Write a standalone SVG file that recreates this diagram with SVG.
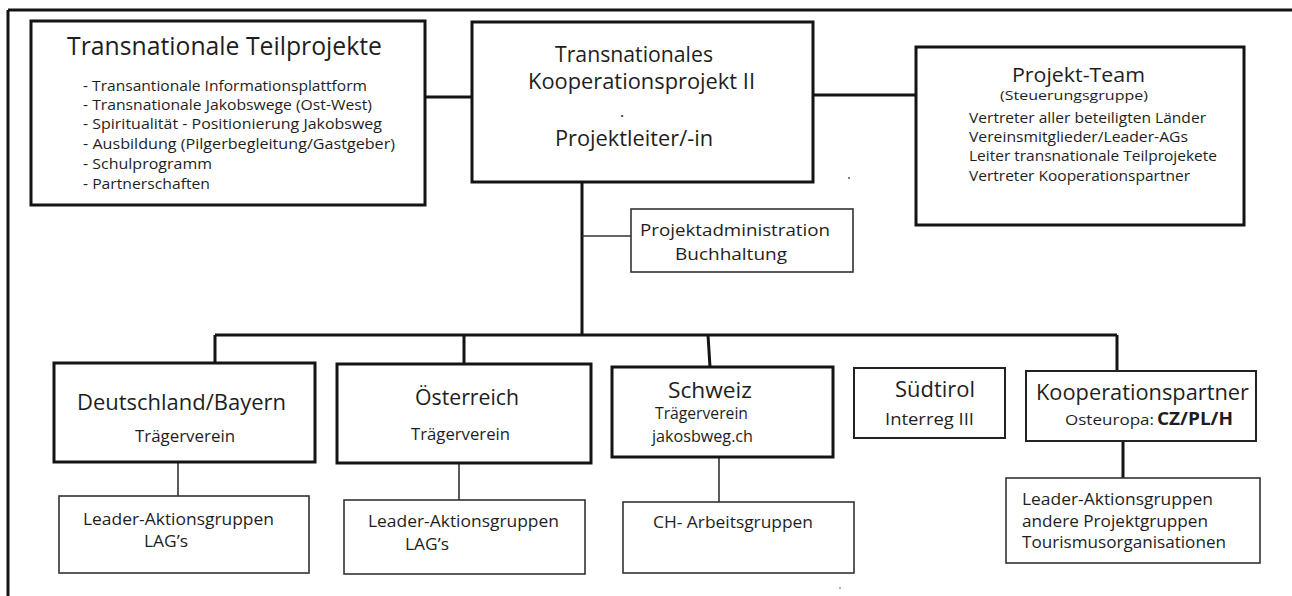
<svg xmlns="http://www.w3.org/2000/svg" width="1292" height="596" viewBox="0 0 1292 596">
<style>
text{font-family:"Open Sans","Liberation Sans",sans-serif;fill:#1e1e1e}
.b{fill:#fff;stroke:#141414;stroke-width:3}
.t{fill:#fff;stroke:#333;stroke-width:1.6}
.m{fill:#fff;stroke:#222;stroke-width:2}
.c{stroke:#141414;stroke-width:3;fill:none}
.s{stroke:#333;stroke-width:1.6;fill:none}
</style>
<rect width="1292" height="596" fill="#fff"/>
<g id="frame"><path class="c" d="M8 10H1292M8 10V596"/></g>
<g id="connectors">
<path class="c" d="M425 97H472M813 95H917M582 182V335M215 335H1117M215 335V363M464 335V364M708 335L710 367M1117 335V371M1123 441V478"/>
<path class="s" d="M582 236H631M178 462V496M459 463V500M719 457V502"/>
</g>
<g id="teilprojekte">
<rect class="b" x="31" y="21" width="394" height="184"/>
<text x="67" y="55" font-size="26" textLength="315" lengthAdjust="spacingAndGlyphs">Transnationale Teilprojekte</text>
<g font-size="15">
<text x="83" y="91" textLength="284" lengthAdjust="spacingAndGlyphs">- Transantionale Informationsplattform</text>
<text x="83" y="110" textLength="289" lengthAdjust="spacingAndGlyphs">- Transnationale Jakobswege (Ost-West)</text>
<text x="83" y="129" textLength="299" lengthAdjust="spacingAndGlyphs">- Spiritualität - Positionierung Jakobsweg</text>
<text x="83" y="149" textLength="312" lengthAdjust="spacingAndGlyphs">- Ausbildung (Pilgerbegleitung/Gastgeber)</text>
<text x="83" y="169" textLength="129" lengthAdjust="spacingAndGlyphs">- Schulprogramm</text>
<text x="83" y="189" textLength="127" lengthAdjust="spacingAndGlyphs">- Partnerschaften</text>
</g>
</g>
<g id="kooperationsprojekt">
<rect class="b" x="472" y="22" width="341" height="160"/>
<text x="555" y="62" font-size="21" textLength="158" lengthAdjust="spacingAndGlyphs">Transnationales</text>
<text x="528" y="89" font-size="21" textLength="227" lengthAdjust="spacingAndGlyphs">Kooperationsprojekt II</text>
<text x="620" y="117" font-size="16">.</text>
<text x="555" y="146" font-size="22" textLength="158" lengthAdjust="spacingAndGlyphs">Projektleiter/-in</text>
</g>
<g id="projektteam">
<rect class="b" x="916" y="47" width="328" height="178"/>
<text x="1012" y="82" font-size="20" textLength="133" lengthAdjust="spacingAndGlyphs">Projekt-Team</text>
<text x="1000" y="100" font-size="13.5" textLength="148" lengthAdjust="spacingAndGlyphs">(Steuerungsgruppe)</text>
<g font-size="14.5">
<text x="969" y="123" textLength="237" lengthAdjust="spacingAndGlyphs">Vertreter aller beteiligten Länder</text>
<text x="969" y="142" textLength="219" lengthAdjust="spacingAndGlyphs">Vereinsmitglieder/Leader-AGs</text>
<text x="969" y="161" textLength="248" lengthAdjust="spacingAndGlyphs">Leiter transnationale Teilprojekete</text>
<text x="969" y="181" textLength="221" lengthAdjust="spacingAndGlyphs">Vertreter Kooperationspartner</text>
</g>
</g>
<g id="administration">
<rect class="t" x="631" y="209" width="222" height="63"/>
<text x="640" y="236" font-size="17" textLength="190" lengthAdjust="spacingAndGlyphs">Projektadministration</text>
<text x="675" y="260" font-size="17" textLength="112" lengthAdjust="spacingAndGlyphs">Buchhaltung</text>
</g>
<g id="deutschland">
<rect class="b" x="54" y="363" width="261" height="99"/>
<text x="77" y="410" font-size="22" textLength="209" lengthAdjust="spacingAndGlyphs">Deutschland/Bayern</text>
<text x="135" y="442" font-size="16" textLength="100" lengthAdjust="spacingAndGlyphs">Trägerverein</text>
</g>
<g id="lag-deutschland">
<rect class="t" x="59" y="496" width="250" height="77"/>
<text x="83" y="525" font-size="16" textLength="191" lengthAdjust="spacingAndGlyphs">Leader-Aktionsgruppen</text>
<text x="144" y="547" font-size="16" textLength="44" lengthAdjust="spacingAndGlyphs">LAG’s</text>
</g>
<g id="oesterreich">
<rect class="b" x="337" y="364" width="254" height="99"/>
<text x="415" y="405" font-size="22" textLength="104" lengthAdjust="spacingAndGlyphs">Österreich</text>
<text x="411" y="440" font-size="16" textLength="99" lengthAdjust="spacingAndGlyphs">Trägerverein</text>
</g>
<g id="lag-oesterreich">
<rect class="t" x="344" y="500" width="241" height="74"/>
<text x="368" y="527" font-size="16" textLength="191" lengthAdjust="spacingAndGlyphs">Leader-Aktionsgruppen</text>
<text x="405" y="550" font-size="16" textLength="44" lengthAdjust="spacingAndGlyphs">LAG’s</text>
</g>
<g id="schweiz">
<rect class="b" x="612" y="367" width="221" height="90"/>
<text x="668" y="398" font-size="22" textLength="84" lengthAdjust="spacingAndGlyphs">Schweiz</text>
<text x="655" y="419" font-size="16" textLength="93" lengthAdjust="spacingAndGlyphs">Trägerverein</text>
<text x="652" y="442" font-size="16" textLength="101" lengthAdjust="spacingAndGlyphs">jakosbweg.ch</text>
</g>
<g id="ch-arbeitsgruppen">
<rect class="t" x="623" y="502" width="231" height="71"/>
<text x="653" y="528" font-size="16" textLength="160" lengthAdjust="spacingAndGlyphs">CH- Arbeitsgruppen</text>
</g>
<g id="suedtirol">
<rect class="m" x="854" y="368" width="151" height="70"/>
<text x="895" y="397" font-size="21" textLength="80" lengthAdjust="spacingAndGlyphs">Südtirol</text>
<text x="885" y="425" font-size="16" textLength="89" lengthAdjust="spacingAndGlyphs">Interreg III</text>
</g>
<g id="kooperationspartner">
<rect class="m" x="1026" y="371" width="230" height="70"/>
<text x="1036" y="400" font-size="21" textLength="213" lengthAdjust="spacingAndGlyphs">Kooperationspartner</text>
<text x="1065" y="425" font-size="15" textLength="89" lengthAdjust="spacingAndGlyphs">Osteuropa:</text>
<text x="1157" y="425" font-size="17" font-weight="bold" textLength="76" lengthAdjust="spacingAndGlyphs">CZ/PL/H</text>
</g>
<g id="osteuropa-gruppen">
<rect class="t" x="1006" y="478" width="254" height="85"/>
<text x="1022" y="505" font-size="16" textLength="191" lengthAdjust="spacingAndGlyphs">Leader-Aktionsgruppen</text>
<text x="1022" y="527" font-size="16" textLength="186" lengthAdjust="spacingAndGlyphs">andere Projektgruppen</text>
<text x="1022" y="548" font-size="16" textLength="204" lengthAdjust="spacingAndGlyphs">Tourismusorganisationen</text>
</g>
<g id="marks" fill="#555">
<circle cx="849" cy="178" r="1"/>
<circle cx="1101" cy="497" r="0.8"/>
<circle cx="840" cy="588" r="0.8"/>
</g>
</svg>
